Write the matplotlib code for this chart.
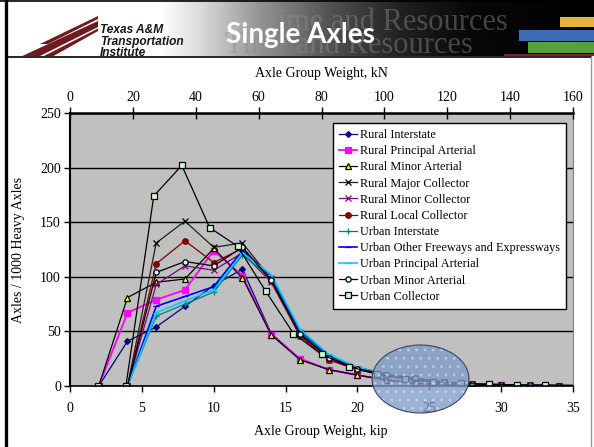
import numpy as np
import matplotlib
matplotlib.use("Agg")
import matplotlib.pyplot as plt
from matplotlib.patches import Ellipse, Polygon, Rectangle
from matplotlib.lines import Line2D

plt.rcParams['font.family'] = ['Liberation Serif', 'DejaVu Serif']

# ---------------- data ----------------
kip_bins = [2, 4, 6, 8, 10, 12, 14, 16, 18, 20, 22, 24, 26, 28, 30, 32, 34, 36]
uc_kip_bins = [1.94, 3.89, 5.83, 7.78, 9.72, 11.66, 13.61, 15.55, 17.50, 19.44,
               21.38, 23.33, 25.27, 27.22, 29.16, 31.10, 33.05, 36.94]

rural_interstate = [0, 41, 54, 73, 92, 107, 48, 25, 15, 10, 5.5, 2.4, 1.5, 1.0, 0.5, 0.3, 0.2, 0.1]
rural_principal_arterial = [0, 67, 79, 88, 124, 101, 47, 25, 15, 10, 5.5, 2.4, 1.5, 1.0, 0.5, 0.3, 0.2, 0.1]
rural_minor_arterial = [0, 81, 95, 98, 126, 99, 47, 24, 15, 10, 5.5, 2.4, 1.5, 1.0, 0.5, 0.3, 0.2, 0.1]
rural_major_collector = [0, 0, 131, 151, 127, 131, 98, 47, 26, 16, 10.5, 7, 3.5, 2.0, 1.2, 0.6, 0.3, 0.1]
rural_minor_collector = [0, 0, 93, 110, 106, 122, 95, 46, 24, 15, 10, 6.5, 3.3, 1.8, 1.1, 0.6, 0.3, 0.1]
rural_local_collector = [0, 0, 112, 133, 113, 126, 96, 46, 24, 15, 10, 6.5, 3.3, 1.8, 1.1, 0.6, 0.3, 0.1]
urban_interstate = [0, 0, 64, 75, 86, 120, 99, 49, 27, 16, 10.5, 7, 3.4, 1.9, 1.2, 0.6, 0.3, 0.1]
urban_other_fwy = [0, 0, 73, 82, 91, 124, 101, 51, 28, 17, 11, 7, 3.5, 2.0, 1.2, 0.6, 0.3, 0.1]
urban_principal_arterial = [0, 0, 67, 78, 88, 122, 102, 52, 29, 17, 11, 7, 3.5, 2.0, 1.2, 0.6, 0.3, 0.1]
urban_minor_arterial = [0, 0, 104, 114, 110, 127, 97, 48, 26, 16, 10.5, 7, 3.4, 1.9, 1.2, 0.6, 0.3, 0.1]
urban_collector = [0, 0, 174, 202, 145, 128, 87, 48, 29, 17.7, 10.7, 6.4, 3.3, 2.4, 1.5, 0.9, 0.9, 0.4]

series_labels = ['Rural Interstate', 'Rural Principal Arterial', 'Rural Minor Arterial',
                 'Rural Major Collector', 'Rural Minor Collector', 'Rural Local Collector',
                 'Urban Interstate', 'Urban Other Freeways and Expressways',
                 'Urban Principal Arterial', 'Urban Minor Arterial', 'Urban Collector']
series_values = [rural_interstate, rural_principal_arterial, rural_minor_arterial,
                 rural_major_collector, rural_minor_collector, rural_local_collector,
                 urban_interstate, urban_other_fwy, urban_principal_arterial,
                 urban_minor_arterial, urban_collector]
series_x = [kip_bins] * 10 + [uc_kip_bins]

kip_ticks = [0, 5, 10, 15, 20, 25, 30, 35]
kn_ticks = [0, 20, 40, 60, 80, 100, 120, 140, 160]
count_ticks = [0, 50, 100, 150, 200, 250]

# line colour, marker, marker face, marker edge, marker size, line width
styles = [
    ('#000080', 'D', '#000080', '#000080', 3.0, 0.9),
    ('#FF00FF', 's', '#FF00FF', '#FF00FF', 4.0, 1.3),
    ('#000000', '^', '#FFFF00', '#000000', 4.0, 0.9),
    ('#202020', 'x', 'none', '#000000', 4.0, 0.9),
    ('#800080', 'x', 'none', '#800080', 4.0, 0.9),
    ('#800000', 'o', '#800000', '#800000', 4.0, 0.9),
    ('#008080', '+', 'none', '#008080', 4.5, 0.9),
    ('#0000FF', '_', 'none', '#0000FF', 4.0, 1.2),
    ('#00CCFF', '_', 'none', '#00CCFF', 5.0, 1.2),
    ('#000000', 'o', '#CCFFFF', '#000000', 3.8, 0.9),
    ('#000000', 's', '#CCFFCC', '#000000', 4.2, 0.9),
]

W, H, DPI = 594, 447, 100
fig = plt.figure(figsize=(W / DPI, H / DPI), dpi=DPI)
fig.patch.set_facecolor('white')

# ---------------- slide banner ----------------
BH = 56
bax = fig.add_axes([0, 1 - BH / H, 1, BH / H])
bax.set_xlim(0, W)
bax.set_ylim(BH, 0)
bax.axis('off')
gx = np.arange(W)
gvals = np.interp(gx, [0, 160, 200, 260, 330, 400, 470, W],
                  [1.0, 1.0, 0.86, 0.58, 0.32, 0.13, 0.03, 0.0])
bax.imshow(np.tile(gvals, (2, 1)), cmap='gray', vmin=0, vmax=1,
           extent=[0, W, BH, 0], aspect='auto', interpolation='bilinear')

# faded template lettering
bax.text(508, 30, 'Time and Resources', ha='right', va='baseline',
         fontsize=22, color='#8c8c8c', alpha=0.45, family='Liberation Serif')
bax.text(473, 53, 'Time and Resources', ha='right', va='baseline',
         fontsize=22, color='#8c8c8c', alpha=0.45, family='Liberation Serif')

# institute mark
maroon = '#6E1A1F'
bax.add_patch(Polygon([(18, 58), (98, 21), (98, 31), (50, 58)], closed=True,
                      facecolor=maroon, edgecolor='none'))
bax.add_patch(Polygon([(40, 44), (98, 16), (98, 19), (48, 44)], closed=True,
                      facecolor=maroon, edgecolor='none'))
bax.add_patch(Polygon([(36, 58), (98, 27), (98, 28.5), (40, 58)], closed=True,
                      facecolor='white', edgecolor='none'))
for i, t in enumerate(['Texas A&M', 'Transportation', 'Institute']):
    bax.text(100, 33 + 11.5 * i, t, ha='left', va='baseline', fontsize=8.6,
             fontweight='bold', fontstyle='italic', color='#1c1414',
             family='Liberation Sans', clip_on=True)

bax.text(300, 43, 'Single Axles', ha='center', va='baseline', fontsize=20,
         fontweight='bold', color='white', family='Lato')

# colour bars on the right
for (x0, y0, y1, c) in [(560, 17, 27, '#E3B43A'), (519, 30, 41, '#3F6DB5'),
                        (528, 42, 53, '#5E9E3C'), (504, 53.5, 56, '#8A1C3C')]:
    bax.add_patch(Rectangle((x0, y0), W - x0, y1 - y0, facecolor=c, edgecolor='none'))

# ---------------- chart ----------------
ax = fig.add_axes([70 / W, 1 - 386 / H, (573 - 70) / W, (386 - 113) / H])
ax.set_facecolor('#C0C0C0')
ax.set_xlim(0, 35)
ax.set_ylim(0, 250)
ax.set_xticks(kip_ticks)
ax.set_yticks(count_ticks)
ax.yaxis.grid(True, color='black', linewidth=1.0)
ax.set_axisbelow(True)
for s in ['left', 'bottom', 'top']:
    ax.spines[s].set_color('black')
ax.spines['left'].set_linewidth(1.5)
ax.spines['bottom'].set_linewidth(1.2)
ax.spines['top'].set_linewidth(1.8)
ax.spines['right'].set_color('#808080')
ax.spines['right'].set_linewidth(0.8)
ax.tick_params(axis='x', direction='out', length=4, width=1, labelsize=10, pad=7.5)
ax.tick_params(axis='y', direction='out', length=4, width=1, labelsize=10, pad=2.5)

handles = []
for xs, ys, lab, (lc, mk, mfc, mec, ms, lw) in zip(series_x, series_values, series_labels, styles):
    h, = ax.plot(xs, ys, color=lc, lw=lw, marker=mk, markerfacecolor=mfc,
                 markeredgecolor=mec, markersize=ms, markeredgewidth=0.9, label=lab)
    handles.append(h)

ax2 = ax.twiny()
ax2.set_xlim(0, 160)
ax2.set_xticks(kn_ticks)
ax2.tick_params(axis='x', direction='inout', length=8, width=1, labelsize=10, pad=2.5)
for s in ax2.spines.values():
    s.set_visible(False)

fig.text(321 / W, 1 - 73 / H, 'Axle Group Weight, kN', ha='center', va='center', fontsize=10)
fig.text(321 / W, 1 - 431 / H, 'Axle Group Weight, kip', ha='center', va='center', fontsize=10)
fig.text(18.5 / W, 1 - 250 / H, 'Axles / 1000 Heavy Axles', ha='center', va='center',
         rotation=90, fontsize=10)

leg = fig.legend(handles=handles, loc='upper left', bbox_to_anchor=(333 / W, 1 - 123 / H),
                 fontsize=8.8, frameon=True, fancybox=False, framealpha=1,
                 edgecolor='black', borderpad=0.5, labelspacing=0.34,
                 handlelength=1.45, handletextpad=0.25, borderaxespad=0)
leg.get_frame().set_linewidth(1.0)

# highlighted region near the tail of the distribution
ell_c = (420.5 / W, 1 - 379 / H)
ell_w, ell_h = 97 / W, 68 / H
ax2.add_patch(Ellipse(ell_c, ell_w, ell_h, transform=fig.transFigure, clip_on=False,
                      facecolor='#7F9BC8', edgecolor='none', alpha=0.78, zorder=10))
plt.rcParams['hatch.linewidth'] = 1.0
ax2.add_patch(Ellipse(ell_c, ell_w, ell_h, transform=fig.transFigure, clip_on=False,
                      facecolor='none', edgecolor='white', hatch='..', linewidth=0,
                      alpha=0.3, zorder=11))
ax2.add_patch(Ellipse(ell_c, ell_w, ell_h, transform=fig.transFigure, clip_on=False,
                      facecolor='none', edgecolor='#3A4462', linewidth=0.8, zorder=12))

# slide frame
fig.add_artist(Line2D([5.5 / W, 5.5 / W], [0, 1], color='black', lw=2.4))
fig.add_artist(Line2D([0, 1], [1 - 0.5 / H, 1 - 0.5 / H], color='black', lw=1.2))
fig.add_artist(Line2D([6 / W, 591 / W], [1 - 56.5 / H, 1 - 56.5 / H], color='black', lw=1.2))
fig.add_artist(Line2D([590.5 / W, 590.5 / W], [0, 1 - 56.5 / H], color='#9a9a9a', lw=1.0))

fig.savefig('out.png', dpi=DPI)
